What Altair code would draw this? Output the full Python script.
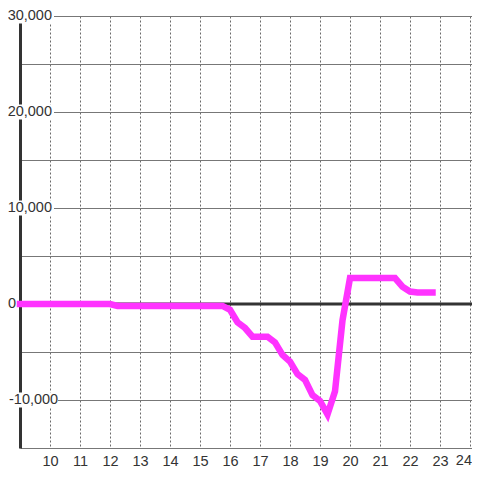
import altair as alt
import pandas as pd

# hour of day (15-minute steps) and the plotted values
hours = [9 + 0.25 * i for i in range(56)]
values = [
    0, 0, 0, 0, 0, 0, 0, 0, 0, 0, 0, 0, 0,              # 9:00 - 12:00
    -200, -200, -200, -200, -200, -200, -200, -200,
    -200, -200, -200, -200, -200, -200, -200,           # 12:15 - 15:45
    -600, -1900, -2500, -3400,                          # 16:00 - 16:45
    -3400, -3400, -4000, -5300,                         # 17:00 - 17:45
    -6000, -7300, -7900, -9500,                         # 18:00 - 18:45
    -10100, -11500, -9100, -1700,                       # 19:00 - 19:45
    2700, 2700, 2700, 2700, 2700, 2700, 2700,           # 20:00 - 21:30
    1800, 1300, 1200, 1200, 1200,                       # 21:45 - 22:45
]

y_label_values = [30000, 20000, 10000, 0, -10000]
y_label_texts = ["30,000", "20,000", "10,000", "0", "-10,000"]
y_grid_values = [-15000, -10000, -5000, 0, 5000, 10000, 15000, 20000, 25000, 30000]
x_ticks = [10, 11, 12, 13, 14, 15, 16, 17, 18, 19, 20, 21, 22, 23, 24]
last_x_label = ["24"]

df = pd.DataFrame({"h": hours, "v": values})
labels = pd.DataFrame({"v": y_label_values, "label": y_label_texts})
zero_df = pd.DataFrame({"v": [0]})
last_df = pd.DataFrame({"label": last_x_label})

FONT = "Liberation Sans"
TXT = "#333333"
xs = alt.Scale(domain=[9, 24.0667], nice=False, zero=False)
ys = alt.Scale(domain=[-15000, 30000], nice=False, zero=False)

ax_x = alt.Axis(values=x_ticks, title=None, grid=True, gridColor="#6a6a6a",
                gridDash=[2, 2], gridWidth=1, domain=False, ticks=False,
                labelFont=FONT, labelFontSize=14.5, labelColor=TXT,
                labelBaseline="middle", labelPadding=13, labelFlush=False,
                labelExpr="datum.value == 24 ? '' : datum.label")
ax_y = alt.Axis(values=y_grid_values, title=None, grid=True, gridColor="#777777",
                gridWidth=1, domain=True, domainColor="#333333", domainWidth=3,
                ticks=False, labels=False)

zero_rule = alt.Chart(zero_df).mark_rule(color="#333333", strokeWidth=3).encode(
    y=alt.Y("v:Q", scale=ys, axis=ax_y)
)

main_lab = labels[labels["v"].isin([30000, 20000, 10000])]
boxes = alt.Chart(main_lab).mark_rule(color="white", strokeWidth=15, strokeCap="butt").encode(
    y=alt.Y("v:Q", scale=ys, axis=ax_y), x=alt.value(-12), x2=alt.value(34)
)
texts = alt.Chart(main_lab).mark_text(align="right", baseline="middle", font=FONT,
                                      fontSize=14.5, color=TXT).encode(
    y=alt.Y("v:Q", scale=ys, axis=ax_y), x=alt.value(32), text="label:N"
)

zero_lab = labels[labels["v"] == 0]
text_zero = alt.Chart(zero_lab).mark_text(align="right", baseline="middle", font=FONT,
                                          fontSize=14.5, color=TXT).encode(
    y=alt.Y("v:Q", scale=ys, axis=ax_y), x=alt.value(-4), text="label:N"
)

neg_lab = labels[labels["v"] == -10000]
box_neg = alt.Chart(neg_lab).mark_rule(color="white", strokeWidth=15, strokeCap="butt").encode(
    y=alt.Y("v:Q", scale=ys, axis=ax_y), x=alt.value(-12), x2=alt.value(38)
)
text_neg = alt.Chart(neg_lab).mark_text(align="left", baseline="middle", font=FONT,
                                        fontSize=14.5, color=TXT).encode(
    y=alt.Y("v:Q", scale=ys, axis=ax_y), x=alt.value(-11), text="label:N"
)

text_last = alt.Chart(last_df).mark_text(align="right", baseline="middle", font=FONT,
                                         fontSize=14.5, color=TXT).encode(
    x=alt.value(452), y=alt.value(445), text="label:N"
)

line = alt.Chart(df).mark_line(color="#ff33ff", strokeWidth=6.5, strokeCap="square",
                               strokeJoin="miter", clip=False).encode(
    x=alt.X("h:Q", scale=xs, axis=ax_x),
    y=alt.Y("v:Q", scale=ys, axis=ax_y),
)

chart = alt.layer(
    boxes, texts, box_neg, text_neg, text_zero, text_last, zero_rule, line
).properties(
    width=452, height=432,
    autosize=alt.AutoSizeParams(type="none"),
    padding={"left": 12, "top": 8, "right": 0, "bottom": 20},
    background="white",
).configure_view(strokeWidth=0)

chart.save("out.html", embed_options={"renderer": "svg", "actions": False})
